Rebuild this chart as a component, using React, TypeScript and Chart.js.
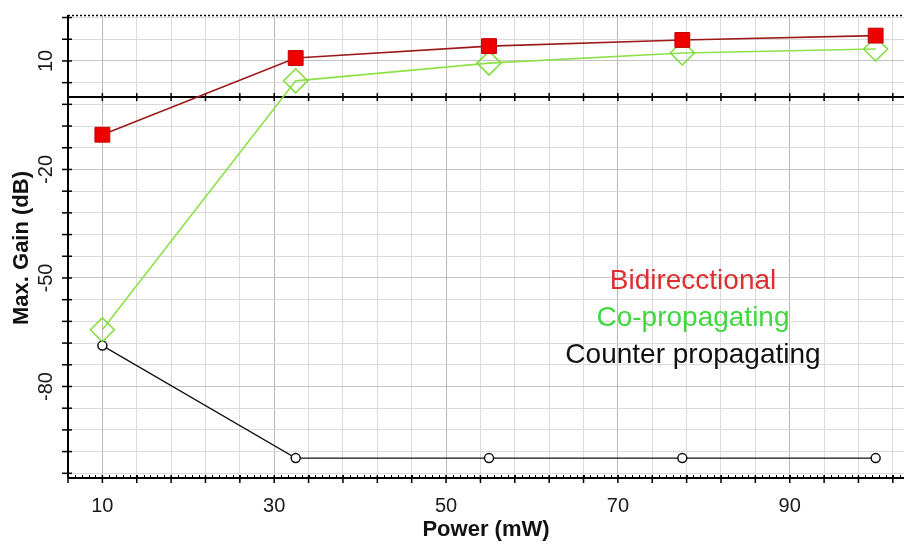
import React, { useEffect, useRef } from "react";
import { Chart, registerables } from "chart.js";

Chart.register(...registerables);

// ---- data ----
const powers = [10, 32.5, 55, 77.5, 100];
const bidirectional = [-10.4, 10.8, 14.1, 15.8, 17];
const coPropagating = [-64.3, 4.5, 9.4, 12.2, 13.3];
const counterPropagating = [-68.7, -99.8, -99.8, -99.8, -99.8];
const seriesNames = ["Bidirecctional", "Co-propagating", "Counter propagating"];
const xTickLabels = [10, 30, 50, 70, 90];
const yTickLabels = [10, -20, -50, -80];
const xMinorStep = 4;
const yMinorStep = 6;
const xMin = 6;
const xMax = 103.3;
const yMin = -105.3;
const yMax = 22.7;
const xTitle = "Power (mW)";
const yTitle = "Max. Gain (dB)";

const FONT = "'Liberation Sans', Arial, sans-serif";
const legendColors = ["#dc2f2f", "#3fd83f", "#111111"];

function xTickValues() {
  const start = xTickLabels[0] - Math.floor((xTickLabels[0] - xMin) / xMinorStep + 1e-9) * xMinorStep;
  const out: number[] = [];
  for (let v = start; v <= xMax + 1e-9; v += xMinorStep) out.push(Math.round(v * 1000) / 1000);
  return out;
}
function yTickValues() {
  const start = yTickLabels[0] + Math.floor((yMax - yTickLabels[0]) / yMinorStep + 1e-9) * yMinorStep;
  const out: number[] = [];
  for (let v = start; v >= yMin - 1e-9; v -= yMinorStep) out.push(Math.round(v * 1000) / 1000);
  return out;
}

const decorPlugin = {
  id: "decor",
  beforeDatasetsDraw(chart: any) {
    const { ctx, chartArea, scales } = chart;
    const xs = scales.x;
    const ys = scales.y;
    const { left, right, top, bottom } = chartArea;
    ctx.save();
    ctx.strokeStyle = "#000";
    // top dotted border
    ctx.lineWidth = 1.5;
    ctx.setLineDash([2, 2]);
    ctx.beginPath();
    ctx.moveTo(left, top + 0.5);
    ctx.lineTo(right, top + 0.5);
    ctx.stroke();
    ctx.setLineDash([]);
    // left axis
    ctx.lineWidth = 2;
    ctx.beginPath();
    ctx.moveTo(left, top);
    ctx.lineTo(left, bottom);
    ctx.stroke();
    ctx.lineWidth = 1.5;
    for (const v of yTickValues()) {
      const py = ys.getPixelForValue(v);
      ctx.beginPath();
      ctx.moveTo(left - 6, py);
      ctx.lineTo(left + 4, py);
      ctx.stroke();
    }
    // zero line
    const py0 = ys.getPixelForValue(0);
    ctx.lineWidth = 2;
    ctx.beginPath();
    ctx.moveTo(left, py0);
    ctx.lineTo(right, py0);
    ctx.stroke();
    ctx.lineWidth = 1.5;
    for (const v of xTickValues()) {
      const px = xs.getPixelForValue(v);
      ctx.beginPath();
      ctx.moveTo(px, py0 - 4);
      ctx.lineTo(px, py0 + 4);
      ctx.stroke();
    }
    // bottom axis
    ctx.lineWidth = 2;
    ctx.beginPath();
    ctx.moveTo(left, bottom);
    ctx.lineTo(right, bottom);
    ctx.stroke();
    ctx.lineWidth = 1.5;
    for (const v of xTickValues()) {
      const px = xs.getPixelForValue(v);
      ctx.beginPath();
      ctx.moveTo(px, bottom - 3);
      ctx.lineTo(px, bottom + 5);
      ctx.stroke();
    }
    ctx.lineWidth = 1;
    for (let v = xMin; v <= xMax; v += xMinorStep / 5) {
      const px = Math.round(xs.getPixelForValue(v)) + 0.5;
      ctx.beginPath();
      ctx.moveTo(px, bottom - 3);
      ctx.lineTo(px, bottom);
      ctx.stroke();
    }
    ctx.restore();
  },
  afterDraw(chart: any) {
    const { ctx, chartArea, scales } = chart;
    const xs = scales.x;
    const ys = scales.y;
    ctx.save();
    ctx.fillStyle = "#1a1a1a";
    ctx.font = `20px ${FONT}`;
    ctx.textAlign = "center";
    ctx.textBaseline = "middle";
    for (const v of xTickLabels) {
      ctx.fillText(String(v), xs.getPixelForValue(v), 506);
    }
    for (const v of yTickLabels) {
      ctx.save();
      ctx.translate(46, ys.getPixelForValue(v));
      ctx.rotate(-Math.PI / 2);
      ctx.fillText(String(v), 0, 0);
      ctx.restore();
    }
    ctx.font = `bold 22px ${FONT}`;
    ctx.fillStyle = "#111";
    ctx.fillText(xTitle, (chartArea.left + chartArea.right) / 2, 530);
    ctx.save();
    ctx.translate(22, 248);
    ctx.rotate(-Math.PI / 2);
    ctx.fillText(yTitle, 0, 0);
    ctx.restore();
    // legend text
    ctx.font = `28px ${FONT}`;
    ctx.textBaseline = "alphabetic";
    const baselines = [289, 326, 363];
    seriesNames.forEach((name, i) => {
      ctx.fillStyle = legendColors[i];
      ctx.fillText(name, 693, baselines[i]);
    });
    ctx.restore();
  },
};

export default function App() {
  const ref = useRef<HTMLCanvasElement | null>(null);
  useEffect(() => {
    if (!ref.current) return;
    const majorX = new Set(xTickLabels);
    const majorY = new Set(yTickLabels);
    const chart = new Chart(ref.current, {
      type: "line",
      data: {
        datasets: [
          {
            label: seriesNames[0],
            data: powers.map((x, i) => ({ x, y: bidirectional[i] })),
            borderColor: "#9c1a1a",
            borderWidth: 1.6,
            pointStyle: "rect",
            pointRadius: 10.5,
            pointBackgroundColor: "#ee0000",
            pointBorderColor: "#c00000",
            pointBorderWidth: 1,
            tension: 0,
          },
          {
            label: seriesNames[1],
            data: powers.map((x, i) => ({ x, y: coPropagating[i] })),
            borderColor: "#8ee04a",
            borderWidth: 1.6,
            pointStyle: "rectRot",
            pointRadius: 12,
            pointBackgroundColor: "rgba(255,255,255,0)",
            pointBorderColor: "#7fdc3a",
            pointBorderWidth: 1.5,
            tension: 0,
          },
          {
            label: seriesNames[2],
            data: powers.map((x, i) => ({ x, y: counterPropagating[i] })),
            borderColor: "#111",
            borderWidth: 1.2,
            pointStyle: "circle",
            pointRadius: 4.5,
            pointBackgroundColor: "#fff",
            pointBorderColor: "#111",
            pointBorderWidth: 1.5,
            tension: 0,
          },
        ],
      },
      options: {
        responsive: false,
        maintainAspectRatio: false,
        animation: false,
        layout: { autoPadding: false, padding: { top: 15, left: 0, right: 0, bottom: 0 } },
        plugins: { legend: { display: false }, tooltip: { enabled: false } },
        scales: {
          x: {
            type: "linear",
            min: xMin,
            max: xMax,
            ticks: { display: false },
            border: { display: false },
            grid: {
              drawTicks: false,
              lineWidth: 1,
              color: (c: any) => (majorX.has(c.tick?.value) ? "#b8b8b8" : "#dadada"),
            },
            afterBuildTicks: (s: any) => {
              s.ticks = xTickValues().map((value) => ({ value }));
            },
            afterFit: (s: any) => {
              s.height = 68;
            },
          },
          y: {
            type: "linear",
            min: yMin,
            max: yMax,
            ticks: { display: false },
            border: { display: false },
            grid: {
              drawTicks: false,
              lineWidth: 1,
              color: (c: any) => (majorY.has(c.tick?.value) ? "#c4c4c4" : "#dadada"),
            },
            afterBuildTicks: (s: any) => {
              s.ticks = yTickValues().map((value) => ({ value }));
            },
            afterFit: (s: any) => {
              s.width = 68;
            },
          },
        },
      },
      plugins: [decorPlugin],
    });
    return () => chart.destroy();
  }, []);
  return (
    <div style={{ position: "absolute", left: 0, top: 0, width: 904, height: 546, background: "#fff" }}>
      <canvas ref={ref} width={904} height={546} style={{ display: "block" }} />
    </div>
  );
}
